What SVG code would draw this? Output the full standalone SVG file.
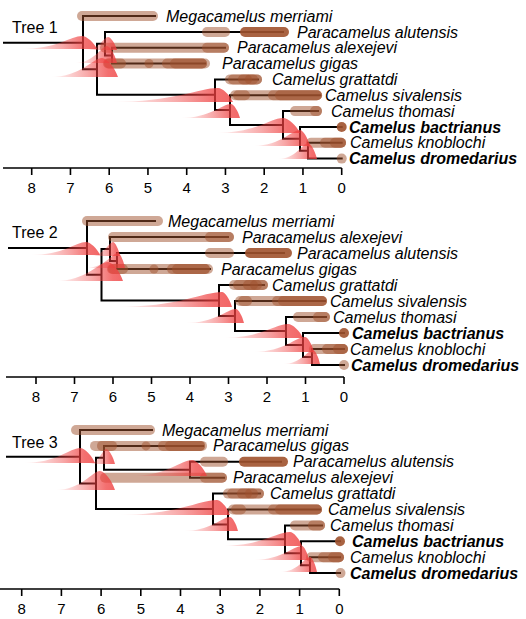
<svg xmlns="http://www.w3.org/2000/svg" width="526" height="619" viewBox="0 0 526 619">
<defs>
<linearGradient id="g" x1="0" y1="0" x2="1" y2="0">
<stop offset="0" stop-color="#ef4040" stop-opacity="0"/>
<stop offset="0.55" stop-color="#ef4040" stop-opacity="0.45"/>
<stop offset="0.85" stop-color="#ef4040" stop-opacity="0.75"/>
<stop offset="1" stop-color="#ef4040" stop-opacity="0.8"/>
</linearGradient>
<style>
.ln{fill:none;stroke:#000;stroke-width:2;stroke-linecap:square;stroke-linejoin:miter}
.ax{fill:none;stroke:#000;stroke-width:1.6}
.r{fill:#a0522d;fill-opacity:.5}
.d{fill:#a0522d;fill-opacity:.9}
.den{fill:url(#g)}
text{font-family:"Liberation Sans",Arial,sans-serif;font-size:16px;fill:#000}
.sp{font-style:italic}
.b{font-style:italic;font-weight:bold}
.tk{text-anchor:middle;font-size:15px}
</style>
</defs>
<rect width="526" height="619" fill="#fff"/>

<!-- ================= TREE 1 ================= -->
<g id="tree1">
<text x="12" y="33">Tree 1</text>
<g id="t1-connectors">
<path class="ln" d="M4,42.65H83 M83,42.65V16H155 M83,42.65V69.3H97 M97,69.3V43.8H105 M97,69.3V94.75H215 M105,43.8V32H283 M105,43.8V55.6H112 M112,55.6V47.7H225 M112,55.6V63.5H205 M215,94.75V79.4H258 M215,94.75V110.1H230 M230,110.1V95.2H320 M230,110.1V125H283 M283,125V111.1H318 M283,125V138.85H300 M300,138.85V127H341.7 M300,138.85V150.7H308 M308,150.7V142.8H341.7 M308,150.7V158.6H341.7"/>
</g>
<g id="t1-mega"><rect class="r" x="77" y="11" width="81" height="10" rx="5"/><text class="sp" x="166" y="21.5">Megacamelus merriami</text></g>
<g id="t1-alutensis"><rect class="r" x="202" y="27" width="28" height="10" rx="5"/><rect class="d" x="240" y="27" width="49" height="10" rx="5"/><text class="sp" x="297" y="37.5">Paracamelus alutensis</text></g>
<g id="t1-alexejevi"><rect class="r" x="100" y="42.7" width="129" height="10" rx="5"/><rect class="r" x="202" y="42.7" width="27" height="10" rx="5"/><text class="sp" x="237" y="53.2">Paracamelus alexejevi</text></g>
<g id="t1-gigas"><rect class="r" x="103" y="58.5" width="107" height="10" rx="5"/><rect class="r" x="104" y="58.5" width="22" height="10" rx="5"/><circle class="r" cx="149" cy="63.5" r="4.5"/><rect class="r" x="162" y="58.5" width="45" height="10" rx="5"/><rect class="r" x="170" y="58.5" width="37" height="10" rx="5"/><text class="sp" x="222" y="69">Paracamelus gigas</text></g>
<g id="t1-grattatdi"><rect class="r" x="225" y="74.4" width="37" height="10" rx="5"/><rect class="r" x="228" y="74.4" width="24" height="10" rx="5"/><rect class="r" x="238" y="74.4" width="24" height="10" rx="5"/><rect class="r" x="245" y="74.4" width="13" height="10" rx="5"/><text class="sp" x="272" y="84.9">Camelus grattatdi</text></g>
<g id="t1-sivalensis"><rect class="r" x="230" y="90.2" width="92" height="10" rx="5"/><rect class="r" x="233" y="90.2" width="17" height="10" rx="5"/><rect class="r" x="268" y="90.2" width="54" height="10" rx="5"/><rect class="r" x="275" y="90.2" width="47" height="10" rx="5"/><text class="sp" x="325" y="100.7">Camelus sivalensis</text></g>
<g id="t1-thomasi"><rect class="r" x="290" y="106.1" width="32" height="10" rx="5"/><rect class="r" x="310" y="106.1" width="12" height="10" rx="5"/><text class="sp" x="331" y="116.6">Camelus thomasi</text></g>
<g id="t1-bactrianus"><circle class="d" cx="341.7" cy="127" r="5"/><text class="b" x="349" y="132.5">Camelus bactrianus</text></g>
<g id="t1-knoblochi"><rect class="r" x="306" y="137.8" width="40" height="10" rx="5"/><rect class="r" x="320" y="137.8" width="26" height="10" rx="5"/><rect class="r" x="330" y="137.8" width="16" height="10" rx="5"/><text class="sp" x="350" y="148.3">Camelus knoblochi</text></g>
<g id="t1-dromedarius"><circle class="r" cx="341.7" cy="158.6" r="5"/><text class="b" x="349" y="164.1">Camelus dromedarius</text></g>
<g id="t1-densities">
<path class="den" d="M20,49C57.2,49 70.8,36 82,36C86.5,36 94,42.5 97,49Z"/>
<path class="den" d="M85,50C98.8,50 103.9,37 108,37C110.7,37 115.2,43.5 117,50Z"/>
<path class="den" d="M75,63C94.2,63 101.2,46 107,46C110,46 115,54.5 117,63Z"/>
<path class="den" d="M50,77C81.2,77 92.6,58 102,58C106.8,58 114.8,67.5 118,77Z"/>
<path class="den" d="M110,102C174.8,102 198.6,88 218,88C222.5,88 230,95 233,102Z"/>
<path class="den" d="M180,118C210.6,118 221.8,104 231,104C233.7,104 238.2,111 240,118Z"/>
<path class="den" d="M215,133C255.8,133 270.8,118 283,118C288.1,118 296.6,125.5 300,133Z"/>
<path class="den" d="M252,146C280.8,146 291.4,130 300,130C303,130 308,138 310,146Z"/>
<path class="den" d="M278,159C296,159 302.6,143 308,143C310.7,143 315.2,151 317,159Z"/>
</g>
<g id="t1-axis">
<path class="ax" d="M3,168H341.7 M341.7,168V175 M302.95,168V175 M264.2,168V175 M225.45,168V175 M186.7,168V175 M147.95,168V175 M109.2,168V175 M70.45,168V175 M31.7,168V175"/>
<text class="tk" x="341.7" y="193">0</text><text class="tk" x="302.95" y="193">1</text><text class="tk" x="264.2" y="193">2</text><text class="tk" x="225.45" y="193">3</text><text class="tk" x="186.7" y="193">4</text><text class="tk" x="147.95" y="193">5</text><text class="tk" x="109.2" y="193">6</text><text class="tk" x="70.45" y="193">7</text><text class="tk" x="31.7" y="193">8</text>
</g>
</g>

<!-- ================= TREE 2 ================= -->
<g id="tree2">
<text x="12" y="238">Tree 2</text>
<g id="t2-connectors">
<path class="ln" d="M9,247.9H87 M87,247.9V221H155 M87,247.9V274.75H101.5 M101.5,274.75V249H110 M101.5,274.75V300.5H219 M110,249V237H228 M110,249V261H117 M117,261V253H284 M117,261V269H210 M219,300.5V285H264 M219,300.5V316H235 M235,316V301H325 M235,316V331H286 M286,331V317H326 M286,331V345H303 M303,345V333H344 M303,345V357H312 M312,357V349H344 M312,357V365H344"/>
</g>
<g id="t2-mega"><rect class="r" x="82" y="216" width="81" height="10" rx="5"/><text class="sp" x="168" y="226.5">Megacamelus merriami</text></g>
<g id="t2-alexejevi"><rect class="r" x="108" y="232" width="126" height="10" rx="5"/><rect class="r" x="205" y="232" width="29" height="10" rx="5"/><text class="sp" x="242" y="242.5">Paracamelus alexejevi</text></g>
<g id="t2-alutensis"><rect class="r" x="205" y="248" width="29" height="10" rx="5"/><rect class="d" x="245" y="248" width="47" height="10" rx="5"/><text class="sp" x="297" y="258.5">Paracamelus alutensis</text></g>
<g id="t2-gigas"><rect class="r" x="107" y="264" width="106" height="10" rx="5"/><rect class="r" x="108" y="264" width="20" height="10" rx="5"/><circle class="r" cx="154" cy="269" r="4.5"/><rect class="r" x="167" y="264" width="43" height="10" rx="5"/><rect class="r" x="172" y="264" width="38" height="10" rx="5"/><text class="sp" x="221" y="274.5">Paracamelus gigas</text></g>
<g id="t2-grattatdi"><rect class="r" x="229" y="280" width="39" height="10" rx="5"/><rect class="r" x="233" y="280" width="25" height="10" rx="5"/><rect class="r" x="243" y="280" width="25" height="10" rx="5"/><rect class="r" x="250" y="280" width="12" height="10" rx="5"/><text class="sp" x="272" y="290.5">Camelus grattatdi</text></g>
<g id="t2-sivalensis"><rect class="r" x="235" y="296" width="92" height="10" rx="5"/><rect class="r" x="238" y="296" width="14" height="10" rx="5"/><rect class="r" x="272" y="296" width="55" height="10" rx="5"/><rect class="r" x="278" y="296" width="49" height="10" rx="5"/><text class="sp" x="330" y="306.5">Camelus sivalensis</text></g>
<g id="t2-thomasi"><rect class="r" x="293" y="312" width="37" height="10" rx="5"/><rect class="r" x="313" y="312" width="17" height="10" rx="5"/><text class="sp" x="333" y="322.5">Camelus thomasi</text></g>
<g id="t2-bactrianus"><circle class="d" cx="344" cy="333" r="5"/><text class="b" x="352" y="338.5">Camelus bactrianus</text></g>
<g id="t2-knoblochi"><rect class="r" x="309" y="344" width="39" height="10" rx="5"/><rect class="r" x="322" y="344" width="26" height="10" rx="5"/><rect class="r" x="333" y="344" width="15" height="10" rx="5"/><text class="sp" x="350" y="354.5">Camelus knoblochi</text></g>
<g id="t2-dromedarius"><circle class="r" cx="344" cy="365" r="5"/><text class="b" x="351" y="370.5">Camelus dromedarius</text></g>
<g id="t2-densities">
<path class="den" d="M30,255C63.6,255 75.9,242 86,242C90.2,242 97.2,248.5 100,255Z"/>
<path class="den" d="M90,256C103.8,256 108.9,242 113,242C115.1,242 118.6,249 120,256Z"/>
<path class="den" d="M85,268C104.8,268 112.1,253 118,253C120.1,253 123.6,260.5 125,268Z"/>
<path class="den" d="M55,281C86.8,281 98.5,262 108,262C112.5,262 120,271.5 123,281Z"/>
<path class="den" d="M115,307C179.2,307 202.7,292 222,292C225,292 230,299.5 232,307Z"/>
<path class="den" d="M185,323C215.6,323 226.8,309 236,309C238.4,309 242.4,316 244,323Z"/>
<path class="den" d="M220,338C260.8,338 275.8,324 288,324C292.5,324 300,331 303,338Z"/>
<path class="den" d="M252,352C283.8,352 295.5,337 305,337C307.7,337 312.2,344.5 314,352Z"/>
<path class="den" d="M283,364C301,364 307.6,350 313,350C315.1,350 318.6,357 320,364Z"/>
</g>
<g id="t2-axis">
<path class="ax" d="M6,377H344 M344,377V384 M305.5,377V384 M267,377V384 M228.5,377V384 M190,377V384 M151.5,377V384 M113,377V384 M74.5,377V384 M36,377V384"/>
<text class="tk" x="344" y="402">0</text><text class="tk" x="305.5" y="402">1</text><text class="tk" x="267" y="402">2</text><text class="tk" x="228.5" y="402">3</text><text class="tk" x="190" y="402">4</text><text class="tk" x="151.5" y="402">5</text><text class="tk" x="113" y="402">6</text><text class="tk" x="74.5" y="402">7</text><text class="tk" x="36" y="402">8</text>
</g>
</g>

<!-- ================= TREE 3 ================= -->
<g id="tree3">
<text x="12" y="448">Tree 3</text>
<g id="t3-connectors">
<path class="ln" d="M7,456.7H80 M80,456.7V430H152 M80,456.7V483.4H96 M96,483.4V457.8H104 M96,483.4V509H213 M104,457.8V445.9H203 M104,457.8V469.75H190 M190,469.75V461.8H281 M190,469.75V477.7H224 M213,509V493.6H260 M213,509V524.4H228 M228,524.4V509.5H320 M228,524.4V539.3H285 M285,539.3V525.4H322 M285,539.3V553.2H301 M301,553.2V541.3H340 M301,553.2V565.15H310 M310,565.15V557.2H340 M310,565.15V573.1H340"/>
</g>
<g id="t3-mega"><rect class="r" x="71" y="425" width="84" height="10" rx="5"/><text class="sp" x="162" y="435.5">Megacamelus merriami</text></g>
<g id="t3-gigas"><rect class="r" x="90" y="440.9" width="117" height="10" rx="5"/><rect class="r" x="97" y="440.9" width="20" height="10" rx="5"/><circle class="r" cx="146" cy="445.9" r="4.5"/><rect class="r" x="158" y="440.9" width="47" height="10" rx="5"/><rect class="r" x="165" y="440.9" width="40" height="10" rx="5"/><text class="sp" x="213" y="451.4">Paracamelus gigas</text></g>
<g id="t3-alutensis"><rect class="r" x="200" y="456.8" width="28" height="10" rx="5"/><rect class="d" x="239" y="456.8" width="49" height="10" rx="5"/><text class="sp" x="293" y="467.3">Paracamelus alutensis</text></g>
<g id="t3-alexejevi"><rect class="r" x="100" y="472.7" width="127" height="10" rx="5"/><rect class="r" x="200" y="472.7" width="27" height="10" rx="5"/><text class="sp" x="233" y="483.2">Paracamelus alexejevi</text></g>
<g id="t3-grattatdi"><rect class="r" x="223" y="488.6" width="41" height="10" rx="5"/><rect class="r" x="227" y="488.6" width="25" height="10" rx="5"/><rect class="r" x="237" y="488.6" width="27" height="10" rx="5"/><rect class="r" x="245" y="488.6" width="13" height="10" rx="5"/><text class="sp" x="270" y="499.1">Camelus grattatdi</text></g>
<g id="t3-sivalensis"><rect class="r" x="228" y="504.5" width="94" height="10" rx="5"/><rect class="r" x="231" y="504.5" width="15" height="10" rx="5"/><rect class="r" x="268" y="504.5" width="54" height="10" rx="5"/><rect class="r" x="275" y="504.5" width="47" height="10" rx="5"/><text class="sp" x="328" y="515">Camelus sivalensis</text></g>
<g id="t3-thomasi"><rect class="r" x="290" y="520.4" width="35" height="10" rx="5"/><rect class="r" x="308" y="520.4" width="17" height="10" rx="5"/><text class="sp" x="330" y="530.9">Camelus thomasi</text></g>
<g id="t3-bactrianus"><circle class="d" cx="340" cy="541.3" r="5"/><text class="b" x="352" y="546.8">Camelus bactrianus</text></g>
<g id="t3-knoblochi"><rect class="r" x="306" y="552.2" width="38" height="10" rx="5"/><rect class="r" x="318" y="552.2" width="26" height="10" rx="5"/><rect class="r" x="328" y="552.2" width="16" height="10" rx="5"/><text class="sp" x="350" y="562.7">Camelus knoblochi</text></g>
<g id="t3-dromedarius"><circle class="r" cx="340.5" cy="573.1" r="5"/><text class="b" x="350" y="578.6">Camelus dromedarius</text></g>
<g id="t3-densities">
<path class="den" d="M23,463C57.2,463 69.7,448 80,448C84.5,448 92,455.5 95,463Z"/>
<path class="den" d="M88,464C98.8,464 102.8,449 106,449C108.7,449 113.2,456.5 115,464Z"/>
<path class="den" d="M55,490C82,490 91.9,471 100,471C104.5,471 112,480.5 115,490Z"/>
<path class="den" d="M130,476C167.2,476 180.8,460 192,460C196.5,460 204,468 207,476Z"/>
<path class="den" d="M117,515C177,515 199,500 217,500C220.9,500 227.4,507.5 230,515Z"/>
<path class="den" d="M183,531C211.2,531 221.5,517 230,517C232.4,517 236.4,524 238,531Z"/>
<path class="den" d="M218,546C261.2,546 277,532 290,532C293.6,532 299.6,539 302,546Z"/>
<path class="den" d="M252,560C282,560 293,546 302,546C304.1,546 307.6,553 309,560Z"/>
<path class="den" d="M280,572C298,572 304.6,557 310,557C312.1,557 315.6,564.5 317,572Z"/>
</g>
<g id="t3-axis">
<path class="ax" d="M0,589H339.3 M339.3,589V596 M299.6,589V596 M259.9,589V596 M220.2,589V596 M180.5,589V596 M140.8,589V596 M101.1,589V596 M61.4,589V596 M21.7,589V596"/>
<text class="tk" x="339.3" y="614">0</text><text class="tk" x="299.6" y="614">1</text><text class="tk" x="259.9" y="614">2</text><text class="tk" x="220.2" y="614">3</text><text class="tk" x="180.5" y="614">4</text><text class="tk" x="140.8" y="614">5</text><text class="tk" x="101.1" y="614">6</text><text class="tk" x="61.4" y="614">7</text><text class="tk" x="21.7" y="614">8</text>
</g>
</g>
</svg>
